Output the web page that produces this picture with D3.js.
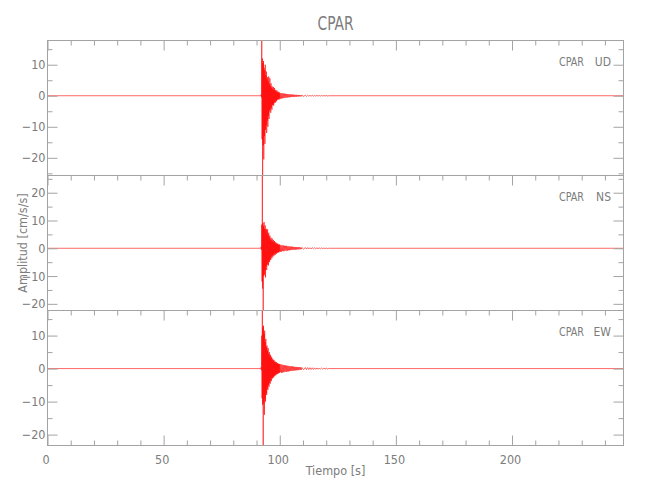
<!DOCTYPE html>
<html><head><meta charset="utf-8">
<script src="https://cdn.jsdelivr.net/npm/d3@7"></script>
<style>
body{margin:0;background:#fff}
text{font-family:"Liberation Sans Narrow","DejaVu Sans Condensed","Liberation Sans",sans-serif;fill:#7c7c7c}
</style>
</head><body><svg id="c" width="650" height="500"></svg>
<script>
// ---------- data ----------
const title = "CPAR";
const station = "CPAR";
const components = ["UD", "NS", "EW"];
const xLabel = "Tiempo [s]";
const yLabel = "Amplitud [cm/s/s]";
const xDomain = [0, 248];
const xMajorTicks = [0, 50, 100, 150, 200];
const quietBefore = [0, 91.8];   // pre-event record (≈0 cm/s/s)
const quietAfter = [121, 248];   // post-event record (≈0 cm/s/s)

// sample times (s) of the strong-motion burst (envelope read per ~0.6 px column)
const burstTimes = [92.00, 92.25, 92.50, 92.75, 93.00, 93.25, 93.50, 93.75, 94.00, 94.25, 94.50,
  94.75, 95.00, 95.25, 95.50, 95.75, 96.00, 96.25, 96.50, 96.75, 97.00, 97.25, 97.50, 97.75,
  98.00, 98.25, 98.50, 98.75, 99.00, 99.25, 99.50, 99.75, 100.00];
const tailTimes = [100.5, 101, 101.5, 102, 102.5, 103, 103.5, 104, 104.5, 105, 105.5, 106, 106.5,
  107, 107.5, 108, 108.5, 109, 109.5, 111, 112, 113, 114, 115, 116, 117, 118, 119, 120];

// UD component (cm/s/s)
const udHi = [0.4, 17.8, 12.0, 10.5, 11.2, 9.0, 8.2, 10.0, 6.5, 7.8, 5.2, 6.0, 4.5, 6.2, 3.8, 5.6,
  3.2, 4.0, 2.6, 3.0, 2.2, 2.8, 1.8, 2.5, 1.6, 1.9, 1.3, 1.7, 1.1, 1.4, 0.9, 1.2, 0.8];
const udLo = [-0.5, -14.0, -25.7, -16.0, -20.5, -13.0, -15.5, -11.0, -9.5, -12.0, -8.0, -10.0, -6.5,
  -7.5, -5.0, -4.2, -5.5, -3.8, -4.5, -3.0, -2.8, -3.2, -2.4, -2.0, -2.2, -1.5, -1.8, -1.4, -1.2,
  -1.0, -1.3, -0.9, -1.0];
const udTail = [0.9, 0.8, 0.75, 0.7, 0.6, 0.6, 0.5, 0.5, 0.45, 0.4, 0.4, 0.35, 0.3, 0.3, 0.28, 0.25,
  0.22, 0.2, 0.2, 0.18, 0.16, 0.15, 0.14, 0.12, 0.12, 0.1, 0.1, 0.08, 0.08];

// NS component
const nsHi = [0.5, 8.5, 26.2, 9.0, 8.0, 9.4, 7.0, 8.2, 6.5, 7.0, 5.5, 6.8, 4.8, 5.6, 4.0, 4.6, 3.2,
  3.8, 2.8, 3.5, 2.4, 3.0, 2.1, 2.6, 1.8, 2.2, 1.6, 1.9, 1.4, 1.6, 1.2, 1.5, 1.1];
const nsLo = [-0.6, -12.0, -14.5, -22.4, -10.0, -9.5, -8.0, -10.5, -6.5, -7.8, -6.0, -5.5, -6.2, -4.5,
  -5.0, -4.0, -4.2, -3.0, -3.6, -2.6, -3.0, -2.2, -2.6, -1.8, -2.3, -1.6, -2.0, -1.4, -1.7, -1.3,
  -1.5, -1.1, -1.3];
const nsTail = [1.2, 1.0, 1.1, 0.9, 0.85, 0.9, 0.7, 0.75, 0.6, 0.65, 0.55, 0.5, 0.5, 0.45, 0.4, 0.4,
  0.35, 0.3, 0.3, 0.28, 0.25, 0.22, 0.2, 0.2, 0.18, 0.15, 0.15, 0.12, 0.1];

// EW component
const ewHi = [0.4, 10.0, 17.6, 12.5, 13.0, 10.5, 11.5, 8.0, 9.0, 6.5, 7.0, 5.5, 6.2, 4.5, 5.0, 3.8,
  4.2, 3.2, 3.6, 2.7, 3.0, 2.4, 2.6, 2.0, 2.2, 1.8, 2.0, 1.6, 1.7, 1.4, 1.5, 1.3, 1.4];
const ewLo = [-0.5, -9.0, -11.0, -23.3, -10.5, -14.0, -9.0, -10.0, -7.5, -8.0, -6.0, -6.5, -5.0, -5.5,
  -4.2, -4.6, -3.5, -3.8, -2.8, -3.0, -2.5, -2.7, -2.1, -2.3, -1.8, -2.0, -1.6, -1.7, -1.4, -1.5,
  -1.2, -1.3, -1.1];
const ewTail = [1.3, 1.2, 1.1, 1.0, 1.0, 0.9, 0.85, 0.8, 0.7, 0.7, 0.65, 0.6, 0.55, 0.5, 0.5, 0.45,
  0.4, 0.4, 0.35, 0.32, 0.3, 0.28, 0.25, 0.22, 0.2, 0.18, 0.16, 0.14, 0.12];

const series = [
  {comp: components[0], hi: udHi, lo: udLo, tail: udTail},
  {comp: components[1], hi: nsHi, lo: nsLo, tail: nsTail},
  {comp: components[2], hi: ewHi, lo: ewLo, tail: ewTail}
];

// ---------- layout ----------
const L = 47.5, R = 623.5, T = 40.5, B = 445.5;
const panelH = (B - T) / series.length;
const axisColor = "#a3a3a3";
const svg = d3.select("#c");

svg.append("text").attr("x", (L + R) / 2).attr("y", 30).attr("text-anchor", "middle")
  .style("font-size", "20px").attr("textLength", 36).attr("lengthAdjust", "spacingAndGlyphs")
  .text(title);

const x = d3.scaleLinear().domain(xDomain).range([L, R]);
const times = burstTimes.concat(tailTimes);

function tracePoints(s) {
  const hi = s.hi.concat(s.tail);
  const lo = s.lo.concat(s.tail.map(a => -a));
  const pts = [[quietBefore[0], 0], [quietBefore[1], 0]];
  for (let i = 0; i < times.length; i++) {
    const t = times[i];
    const next = i < times.length - 1 ? times[i + 1] : t + 1;
    pts.push([t, hi[i]]);
    pts.push([t + (next - t) / 2, lo[i]]);
  }
  pts.push([quietAfter[0], 0], [quietAfter[1], 0]);
  return pts;
}

function styleAxis(g) {
  g.select(".domain").remove();
  g.selectAll("line").attr("stroke", axisColor);
  g.selectAll("text").attr("fill", "#7c7c7c").style("font-size", "12.5px")
    .style("font-family", "'Liberation Sans Narrow','DejaVu Sans Condensed','Liberation Sans',sans-serif");
}

series.forEach((s, k) => {
  const top = T + k * panelH, bot = top + panelH;
  const pts = tracePoints(s);
  const y = d3.scaleLinear().domain(d3.extent(pts, d => d[1])).range([bot, top]);
  const g = svg.append("g");

  // trace
  g.append("path").datum(pts)
    .attr("d", d3.line().x(d => x(d[0])).y(d => y(d[1])))
    .attr("fill", "none").attr("stroke", "#ff0000").attr("stroke-width", 0.6);

  // y axes
  const yMajor = y.ticks(5), yMinor = y.ticks(10).filter(v => !yMajor.includes(v));
  g.append("g").attr("transform", `translate(${L},0)`)
    .call(d3.axisLeft(y).tickValues(yMajor).tickSize(-10).tickPadding(2)
      .tickFormat(d3.format("d"))).call(styleAxis);
  g.append("g").attr("transform", `translate(${L},0)`)
    .call(d3.axisLeft(y).tickValues(yMinor).tickSize(-5).tickFormat("")).call(styleAxis);
  g.append("g").attr("transform", `translate(${R},0)`)
    .call(d3.axisRight(y).tickValues(yMajor).tickSize(-10).tickFormat("")).call(styleAxis);
  g.append("g").attr("transform", `translate(${R},0)`)
    .call(d3.axisRight(y).tickValues(yMinor).tickSize(-5).tickFormat("")).call(styleAxis);

  // x ticks along the panel top (pointing down)
  const xMinor = x.ticks(25).filter(v => !xMajorTicks.includes(v));
  g.append("g").attr("transform", `translate(0,${top})`)
    .call(d3.axisTop(x).tickValues(xMajorTicks).tickSize(-10).tickFormat("")).call(styleAxis);
  g.append("g").attr("transform", `translate(0,${top})`)
    .call(d3.axisTop(x).tickValues(xMinor).tickSize(-5).tickFormat("")).call(styleAxis);

  if (k === series.length - 1) {
    g.append("g").attr("transform", `translate(0,${bot})`)
      .call(d3.axisBottom(x).tickValues(xMajorTicks).tickSize(-10).tickPadding(9.5)
        .tickFormat(d3.format("d"))).call(styleAxis)
      .selectAll("text").attr("dx", -2);
    g.append("g").attr("transform", `translate(0,${bot})`)
      .call(d3.axisBottom(x).tickValues(xMinor).tickSize(-5).tickFormat("")).call(styleAxis);
  }

  // panel frame
  g.append("rect").attr("x", L).attr("y", top).attr("width", R - L).attr("height", panelH)
    .attr("fill", "none").attr("stroke", axisColor);

  // component label
  g.append("text").attr("x", 559).attr("y", top + 25).style("font-size", "12px")
    .attr("textLength", 25).attr("lengthAdjust", "spacingAndGlyphs").text(station);
  g.append("text").attr("x", 611).attr("y", top + 25).attr("text-anchor", "end")
    .style("font-size", "12px").text(s.comp);
});

svg.append("text").attr("x", (L + R) / 2).attr("y", 475).attr("text-anchor", "middle")
  .style("font-size", "12.5px").text(xLabel);
svg.append("text").attr("transform", `translate(27,${T + 1.5 * panelH}) rotate(-90)`)
  .attr("text-anchor", "middle").style("font-size", "12.5px").text(yLabel);
</script>
</body></html>
